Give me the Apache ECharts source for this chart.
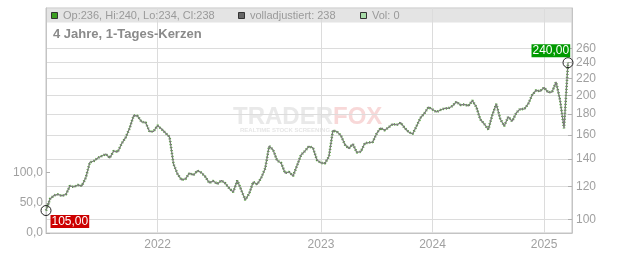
<!DOCTYPE html>
<html>
<head>
<meta charset="utf-8">
<script src="https://cdn.jsdelivr.net/npm/echarts@6/dist/echarts.min.js"></script>
<style>
html,body{margin:0;padding:0;background:#fff;}
#c{width:632px;height:253px;}
</style>
</head>
<body>
<div id="c"></div>
<script>
// ---- data ----
const close = [105, 112.0, 114.2, 114.9, 113.9, 114.9, 120.5, 119.8, 121.1, 120.5,
  126.3, 137.4, 138.5, 140.9, 142.4, 144.0, 140.9, 146.5, 145.7, 152.7,
  158.0, 166.6, 178.6, 178.1, 172.3, 171.8, 163.2, 163.4, 168.9, 165.6,
  162.0, 158.4, 136.2, 128.8, 124.6, 125.3, 129.5, 128.0, 131.2, 129.8,
  126.7, 122.5, 123.9, 121.8, 124.2, 122.2, 118.8, 116.5, 124.2, 117.8,
  111.4, 115.5, 123.2, 121.5, 126.0, 132.8, 150.6, 147.3, 138.9, 137.0,
  129.5, 130.3, 127.4, 135.1, 143.2, 146.5, 150.4, 149.0, 139.3, 137.0,
  136.7, 142.0, 164.3, 163.2, 159.7, 151.9, 148.5, 152.3, 145.3, 145.9,
  152.9, 153.5, 154.0, 161.7, 166.6, 164.4, 167.2, 170.3, 169.4, 171.6,
  166.6, 162.9, 161.1, 168.4, 176.4, 181.1, 187.3, 184.7, 182.1, 184.2,
  185.8, 186.0, 188.4, 192.9, 189.4, 190.0, 188.4, 194.2, 187.3, 174.7,
  170.3, 165.2, 179.1, 190.5, 175.2, 168.4, 177.4, 172.9, 181.1, 185.4,
  185.0, 190.5, 200.3, 205.7, 204.5, 208.9, 203.4, 203.7, 215.4, 194.8,
  166.3, 240];
const yearTickIndex = [28, 69, 97, 125];
const yearTickLabels = ['2022', '2023', '2024', '2025'];
const priceTicks = [100, 120, 140, 160, 180, 200, 220, 240, 260];
const volumeTicks = [0, 50, 100];
const startLabel = '105,00';
const endLabel = '240,00';
const legendTexts = ['Op:236, Hi:240, Lo:234, Cl:238', 'volladjustiert: 238', 'Vol: 0'];
const titleText = '4 Jahre, 1-Tages-Kerzen';

// category slots (one spare slot at the end)
const categories = close.map((_, i) => String(i)).concat(['']);
const closeData = close.concat([null]);

const FONT = '"Liberation Sans", Arial, sans-serif';
const isYearTick = (i) => yearTickIndex.indexOf(i) >= 0;

const chart = echarts.init(document.getElementById('c'), null, {renderer: 'canvas'});
const lastIdx = close.length - 1;

const option = {
  animation: false,
  backgroundColor: '#fff',
  grid: {left: 46, top: 8, width: 526, height: 225, show: true, borderColor: '#c4c4c4', borderWidth: 1, backgroundColor: 'transparent', outerBoundsMode: 'none', containLabel: false},
  xAxis: {
    type: 'category', data: categories, boundaryGap: false,
    axisLine: {show: true, lineStyle: {color: '#c4c4c4'}},
    axisTick: {show: false},
    axisLabel: {
      interval: (i) => isYearTick(i),
      formatter: (v, i) => yearTickLabels[yearTickIndex.indexOf(i)] || '',
      color: '#a0a0a0', fontSize: 12, fontFamily: FONT, margin: 6
    },
    splitLine: {show: true, interval: (i) => isYearTick(i), lineStyle: {color: '#dcdcdc', width: 1}}
  },
  yAxis: [
    {
      type: 'value', position: 'left', min: 0, max: 373,
      axisLine: {show: true, lineStyle: {color: '#c4c4c4'}},
      axisTick: {show: true, inside: true, length: 4, customValues: volumeTicks, lineStyle: {color: '#b0b0b0'}},
      axisLabel: {customValues: volumeTicks, formatter: (v) => v.toFixed(1).replace('.', ','), color: '#a0a0a0', fontSize: 12, fontFamily: FONT, margin: 3},
      splitLine: {show: false}
    },
    {
      type: 'log', position: 'right', min: 92.6, max: 325.8, logBase: 10,
      axisLine: {show: true, lineStyle: {color: '#c4c4c4'}},
      axisTick: {show: true, inside: true, length: 4, customValues: priceTicks, lineStyle: {color: '#b0b0b0'}},
      axisLabel: {customValues: priceTicks, formatter: (v) => String(Math.round(v)), color: '#a0a0a0', fontSize: 12, fontFamily: FONT, margin: 4},
      splitLine: {show: true, lineStyle: {color: '#dcdcdc', width: 1}}
    }
  ],
  graphic: [
    {type: 'rect', z: -10, shape: {x: 46.5, y: 8.5, width: 525, height: 14}, style: {fill: '#e4e4e4'}},
    {type: 'rect', z: 10, shape: {x: 51.5, y: 12.5, width: 6, height: 6}, style: {fill: '#3c9e22', stroke: '#333', lineWidth: 1}},
    {type: 'text', z: 10, x: 63, y: 15.5, style: {text: legendTexts[0], fill: '#9a9a9a', font: '11px ' + FONT, textVerticalAlign: 'middle'}},
    {type: 'rect', z: 10, shape: {x: 238.5, y: 12.5, width: 6, height: 6}, style: {fill: '#666', stroke: '#333', lineWidth: 1}},
    {type: 'text', z: 10, x: 250, y: 15.5, style: {text: legendTexts[1], fill: '#9a9a9a', font: '11px ' + FONT, textVerticalAlign: 'middle'}},
    {type: 'rect', z: 10, shape: {x: 360.5, y: 12.5, width: 6, height: 6}, style: {fill: '#a9dca9', stroke: '#333', lineWidth: 1}},
    {type: 'text', z: 10, x: 372, y: 15.5, style: {text: legendTexts[2], fill: '#9a9a9a', font: '11px ' + FONT, textVerticalAlign: 'middle'}},
    {type: 'text', z: 10, x: 53, y: 34, style: {text: titleText, fill: '#8a8a8a', font: 'bold 13px ' + FONT, textVerticalAlign: 'middle'}},
    {type: 'text', z: -5, x: 233, y: 117, style: {text: 'TRADER', fill: '#e9e9e9', font: 'bold 24px ' + FONT, textVerticalAlign: 'middle'}},
    {type: 'text', z: -5, x: 333, y: 117, style: {text: 'FOX', fill: '#f8d8d8', font: 'bold 24px ' + FONT, textVerticalAlign: 'middle'}},
    {type: 'text', z: -5, x: 240, y: 130, style: {text: 'REALTIME STOCK SCREENING', fill: '#e6e6e6', font: 'bold 6px ' + FONT, textVerticalAlign: 'middle'}}
  ],
  series: [
    {
      name: 'Kerzen', type: 'line', yAxisIndex: 1, data: closeData, showSymbol: false, symbol: 'none',
      lineStyle: {color: '#45a526', width: 2.6, type: [1, 2]}, z: 2, silent: true
    },
    {
      name: 'volladjustiert', type: 'line', yAxisIndex: 1, data: closeData, showSymbol: false, symbol: 'none',
      lineStyle: {color: '#7c7c7c', width: 1.3}, z: 3, silent: true,
      markPoint: {
        symbol: 'circle', symbolSize: 10, silent: true,
        itemStyle: {color: 'rgba(0,0,0,0)', borderColor: '#222', borderWidth: 1},
        data: [
          {coord: [categories[0], close[0]], label: {show: true, formatter: startLabel, position: [10, 10], color: '#fff', backgroundColor: '#cc0000', padding: [1, 1, 0, 1], fontSize: 12, fontFamily: FONT, lineHeight: 12}},
          {coord: [categories[lastIdx], close[lastIdx]], label: {show: true, formatter: endLabel, position: [-31, -13], color: '#fff', backgroundColor: '#009a00', padding: [1, 1, 0, 1], fontSize: 12, fontFamily: FONT, lineHeight: 12}}
        ]
      }
    }
  ]
};
chart.setOption(option);
</script>
</body>
</html>
